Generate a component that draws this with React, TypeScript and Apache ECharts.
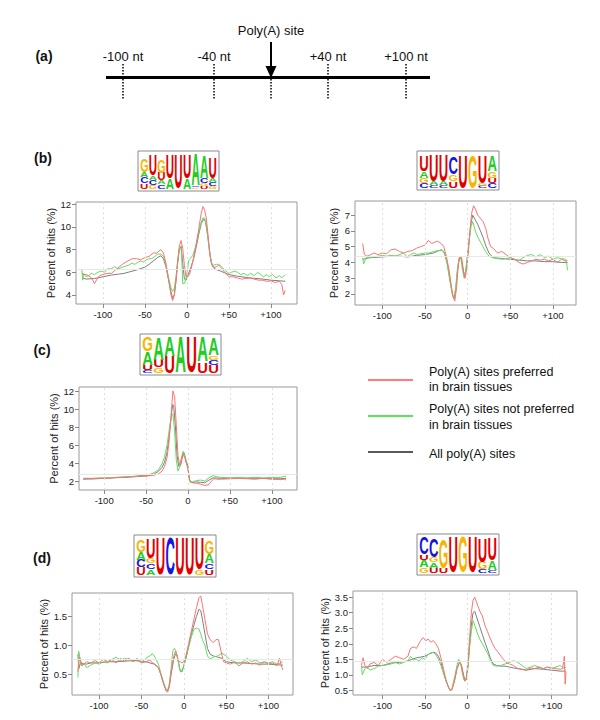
import React, { useEffect, useRef } from "react";
import * as echarts from "echarts";

type P = [number, number];

const X_TICKS = [-100, -50, 0, 50, 100];

// ---- panel (b) left ----
const B1_ALL: P[] = [[-125,5.5],[-120,5.4],[-110,5.45],[-100,5.6],[-90,5.75],[-80,5.85],[-75,5.9],[-70,6.0],[-60,6.2],[-50,6.45],[-45,6.7],[-40,7.0],[-35,7.3],[-31,7.45],[-28,7.2],[-25,6.5],[-22,5.4],[-19,4.3],[-17,3.7],[-15,4.0],[-13,5.2],[-11,6.8],[-9,8.0],[-7,8.3],[-5,6.8],[-3,5.4],[-1,5.3],[1,5.7],[3,6.1],[5,6.5],[8,7.2],[11,8.2],[14,9.3],[17,10.3],[20,10.7],[22,10.5],[24,9.6],[26,8.5],[28,7.3],[30,6.6],[33,6.3],[40,6.1],[50,5.8],[60,5.65],[75,5.5],[90,5.4],[100,5.3],[110,5.25],[117,5.2]];
const B1_RED: P[] = [[-125,5.9],[-123,5.8],[-120,5.8],[-115,5.6],[-112,5.3],[-110,5.0],[-107,5.4],[-104,5.7],[-100,5.8],[-95,5.9],[-90,5.9],[-85,6.2],[-80,6.5],[-75,6.8],[-70,7.0],[-65,7.2],[-60,7.2],[-55,7.1],[-50,7.3],[-45,7.4],[-40,7.7],[-36,7.7],[-31,8.0],[-28,7.7],[-25,6.8],[-22,5.4],[-19,4.0],[-17,3.5],[-15,4.0],[-13,5.3],[-11,7.0],[-9,8.3],[-7,8.8],[-5,8.1],[-3,6.6],[-1,5.6],[1,5.6],[3,5.8],[5,6.3],[8,7.3],[11,8.4],[14,9.8],[17,11.2],[19,11.8],[21,11.5],[23,10.8],[25,9.4],[27,7.8],[29,6.8],[32,6.4],[35,6.5],[38,6.6],[41,6.4],[45,6.0],[50,5.6],[55,5.6],[60,5.5],[65,5.4],[70,5.45],[75,5.5],[80,5.4],[85,5.3],[90,5.3],[95,5.2],[100,5.25],[105,5.1],[110,5.2],[113,4.9],[115,4.0],[117,4.4]];
const B1_GREEN: P[] = [[-125,6.2],[-124,5.3],[-123,5.9],[-120,5.6],[-117,5.7],[-114,5.9],[-110,5.8],[-106,6.0],[-102,6.1],[-98,6.0],[-95,6.3],[-90,6.3],[-86,6.5],[-82,6.3],[-78,6.4],[-75,6.5],[-70,6.6],[-66,6.8],[-62,6.7],[-58,6.9],[-55,7.0],[-52,6.9],[-48,7.1],[-45,7.2],[-42,7.2],[-38,7.4],[-35,7.6],[-31,7.6],[-28,7.4],[-25,6.7],[-22,5.6],[-19,4.6],[-17,4.3],[-15,4.6],[-13,5.6],[-11,7.0],[-9,8.1],[-7,8.3],[-6,7.0],[-5,5.0],[-3,5.0],[-1,5.5],[1,6.4],[2,7.0],[4,7.2],[7,7.5],[10,8.2],[14,9.5],[17,10.4],[19,10.8],[21,10.8],[23,10.2],[25,9.0],[27,7.7],[29,6.9],[31,6.6],[35,6.7],[38,6.7],[41,6.5],[45,6.2],[50,5.9],[53,6.0],[57,6.1],[60,6.0],[64,5.8],[68,5.9],[72,5.7],[76,5.9],[80,5.7],[84,6.0],[88,5.8],[91,5.6],[95,5.8],[98,5.6],[102,5.8],[106,5.5],[110,5.7],[113,5.5],[117,5.8]];

// ---- panel (b) right ----
const B2_ALL: P[] = [[-123,4.2],[-115,4.3],[-100,4.35],[-90,4.4],[-80,4.4],[-70,4.35],[-60,4.45],[-50,4.5],[-40,4.6],[-35,4.72],[-30,4.8],[-27,4.6],[-24,4.0],[-21,3.0],[-18,2.0],[-16,1.7],[-14,2.2],[-12,3.4],[-10,4.25],[-8,4.35],[-6,3.8],[-4,3.1],[-2,3.5],[0,4.5],[2,5.5],[4,6.5],[6,7.0],[9,6.7],[12,6.4],[15,6.0],[18,5.6],[21,5.1],[25,4.6],[30,4.3],[40,4.25],[50,4.2],[60,4.15],[70,4.1],[80,4.1],[90,4.05],[100,4.05],[110,4.0],[117,4.0]];
const B2_RED: P[] = [[-123,5.2],[-121,4.5],[-118,4.4],[-115,4.45],[-110,4.6],[-105,4.5],[-100,4.6],[-95,4.55],[-90,4.8],[-85,4.85],[-80,4.7],[-75,4.6],[-70,4.7],[-65,4.75],[-60,4.9],[-55,5.0],[-50,5.1],[-46,5.4],[-42,5.2],[-38,5.3],[-35,5.35],[-31,5.2],[-28,5.0],[-25,4.4],[-22,3.6],[-19,2.5],[-17,1.8],[-15,1.55],[-13,2.4],[-11,3.8],[-9,4.4],[-7,4.3],[-5,3.5],[-3,3.0],[-1,3.6],[1,4.8],[3,6.2],[5,7.2],[7,7.6],[9,7.4],[12,7.0],[15,6.8],[18,6.6],[21,6.2],[24,5.5],[27,5.0],[30,4.9],[35,4.6],[40,4.7],[45,4.5],[50,4.3],[55,4.2],[60,4.0],[65,3.9],[70,4.0],[75,4.1],[80,4.2],[85,4.15],[90,4.2],[95,4.1],[100,4.2],[105,4.0],[110,4.2],[115,4.1],[117,4.1]];
const B2_GREEN: P[] = [[-123,4.3],[-122,3.9],[-119,4.3],[-115,4.3],[-110,4.35],[-105,4.4],[-100,4.45],[-95,4.4],[-90,4.45],[-85,4.4],[-80,4.5],[-75,4.6],[-71,4.35],[-67,4.5],[-63,4.6],[-59,4.5],[-55,4.55],[-50,4.6],[-45,4.6],[-40,4.7],[-35,4.75],[-30,4.8],[-27,4.55],[-24,3.9],[-21,2.9],[-18,2.0],[-16,1.8],[-14,2.4],[-12,3.6],[-10,4.3],[-8,4.3],[-6,3.5],[-4,3.0],[-2,3.6],[0,4.5],[2,5.5],[4,6.3],[6,6.6],[9,6.0],[12,5.6],[15,5.3],[18,5.0],[21,4.7],[25,4.4],[30,4.3],[40,4.2],[45,4.25],[50,4.3],[55,4.2],[60,4.1],[65,4.3],[70,4.45],[75,4.5],[80,4.35],[85,4.5],[90,4.3],[95,4.4],[100,4.2],[105,4.3],[110,4.25],[115,4.2],[116,4.0],[117,3.5]];

// ---- panel (c) ----
const C_ALL: P[] = [[-125,2.2],[-110,2.25],[-100,2.3],[-90,2.35],[-75,2.4],[-60,2.5],[-50,2.55],[-45,2.65],[-40,2.8],[-35,3.1],[-31,3.5],[-28,4.1],[-25,5.2],[-23,6.6],[-21,8.4],[-19,10.0],[-18,10.5],[-17,10.3],[-15,8.0],[-13,4.8],[-11,3.6],[-9,3.7],[-7,4.5],[-5,5.2],[-4,4.9],[-2,4.2],[0,3.6],[1,2.6],[2,2.0],[5,1.85],[10,1.9],[15,1.85],[20,1.8],[25,2.1],[30,2.35],[40,2.3],[50,2.3],[60,2.32],[70,2.3],[80,2.3],[90,2.28],[100,2.25],[110,2.25],[117,2.3]];
const C_RED: P[] = [[-125,2.1],[-123,2.3],[-115,2.25],[-105,2.3],[-95,2.3],[-85,2.4],[-75,2.45],[-65,2.5],[-55,2.6],[-50,2.55],[-45,2.6],[-40,2.65],[-35,2.8],[-31,3.1],[-28,3.6],[-25,4.6],[-23,6.0],[-21,8.2],[-19,10.8],[-18,12.0],[-16,11.4],[-14,8.3],[-12,4.8],[-10,3.8],[-8,4.4],[-6,5.0],[-4,4.6],[-2,4.0],[0,3.3],[2,2.1],[5,1.8],[10,1.75],[15,1.65],[20,1.5],[25,1.6],[28,2.0],[31,2.25],[35,2.2],[40,2.2],[50,2.25],[60,2.3],[70,2.25],[80,2.2],[90,2.3],[100,2.2],[110,2.15],[115,2.2],[117,2.1]];
const C_GREEN: P[] = [[-125,2.3],[-115,2.3],[-105,2.35],[-95,2.35],[-85,2.4],[-75,2.45],[-65,2.5],[-55,2.6],[-50,2.6],[-45,2.75],[-40,2.95],[-35,3.3],[-31,3.9],[-28,4.7],[-25,6.0],[-23,7.3],[-21,8.6],[-19,9.4],[-18,9.5],[-16,7.6],[-14,4.4],[-12,3.1],[-10,3.5],[-8,4.5],[-6,5.3],[-4,4.8],[-2,4.0],[0,3.5],[1,2.4],[3,1.8],[6,1.9],[10,2.05],[15,2.1],[20,2.0],[25,2.35],[30,2.6],[35,2.45],[40,2.4],[50,2.35],[60,2.4],[70,2.35],[80,2.4],[90,2.35],[100,2.4],[110,2.4],[117,2.55]];

// ---- panel (d) left ----
const D1_ALL: P[] = [[-125,0.85],[-124,0.6],[-122,0.7],[-115,0.68],[-110,0.7],[-100,0.7],[-90,0.72],[-80,0.72],[-70,0.73],[-60,0.74],[-50,0.73],[-45,0.72],[-40,0.7],[-35,0.68],[-30,0.62],[-27,0.5],[-24,0.35],[-21,0.24],[-19,0.22],[-17,0.3],[-15,0.5],[-12,0.75],[-10,0.85],[-8,0.84],[-6,0.7],[-4,0.55],[-2,0.55],[0,0.65],[3,0.8],[6,1.0],[9,1.2],[12,1.35],[15,1.5],[18,1.62],[20,1.6],[22,1.45],[25,1.2],[28,0.95],[31,0.85],[35,0.82],[40,0.8],[45,0.78],[50,0.72],[60,0.7],[70,0.7],[80,0.69],[90,0.68],[100,0.68],[110,0.67],[117,0.66]];
const D1_RED: P[] = [[-125,0.55],[-123,0.8],[-120,0.65],[-115,0.72],[-110,0.7],[-105,0.74],[-100,0.7],[-95,0.76],[-90,0.72],[-85,0.76],[-80,0.7],[-75,0.78],[-70,0.73],[-65,0.78],[-60,0.73],[-55,0.75],[-50,0.7],[-45,0.72],[-40,0.75],[-37,0.7],[-34,0.68],[-30,0.62],[-27,0.5],[-24,0.35],[-21,0.22],[-19,0.2],[-17,0.3],[-15,0.55],[-12,0.8],[-10,0.9],[-8,0.82],[-6,0.72],[-4,0.72],[-2,0.7],[0,0.72],[3,0.85],[6,1.05],[9,1.25],[12,1.45],[15,1.65],[18,1.82],[20,1.85],[22,1.7],[25,1.45],[28,1.2],[31,1.1],[35,1.05],[38,1.1],[41,1.1],[44,0.9],[47,0.72],[50,0.7],[55,0.68],[60,0.72],[65,0.65],[70,0.7],[75,0.72],[80,0.68],[85,0.7],[90,0.66],[95,0.72],[100,0.68],[105,0.7],[110,0.65],[113,0.78],[116,0.62],[117,0.58]];
const D1_GREEN: P[] = [[-125,0.45],[-124,0.9],[-121,0.65],[-118,0.7],[-115,0.62],[-110,0.66],[-105,0.7],[-100,0.68],[-95,0.72],[-90,0.7],[-85,0.76],[-80,0.8],[-75,0.74],[-70,0.78],[-65,0.76],[-60,0.72],[-55,0.78],[-50,0.7],[-45,0.78],[-40,0.82],[-37,0.86],[-34,0.8],[-30,0.68],[-27,0.52],[-24,0.38],[-21,0.25],[-19,0.24],[-17,0.35],[-15,0.6],[-13,0.9],[-11,0.95],[-9,0.9],[-7,0.75],[-5,0.6],[-3,0.55],[0,0.65],[3,0.82],[6,0.98],[9,1.15],[12,1.28],[15,1.3],[18,1.28],[20,1.2],[22,1.1],[25,1.0],[28,0.82],[31,0.77],[35,0.8],[40,0.82],[45,0.87],[50,0.82],[55,0.75],[60,0.72],[65,0.7],[70,0.72],[75,0.78],[80,0.72],[85,0.75],[90,0.7],[95,0.72],[100,0.7],[105,0.72],[110,0.68],[115,0.7],[117,0.72]];

// ---- panel (d) right ----
const D2_ALL: P[] = [[-125,1.25],[-120,1.25],[-110,1.3],[-100,1.3],[-90,1.38],[-80,1.4],[-70,1.45],[-65,1.5],[-60,1.55],[-55,1.57],[-50,1.6],[-45,1.67],[-40,1.73],[-37,1.7],[-34,1.6],[-31,1.4],[-28,1.1],[-25,0.8],[-22,0.6],[-20,0.5],[-18,0.52],[-15,0.8],[-12,1.2],[-9,1.4],[-7,1.35],[-5,1.1],[-3,0.85],[-1,0.85],[1,1.3],[3,2.0],[5,2.6],[7,3.0],[9,3.05],[12,2.8],[15,2.55],[18,2.3],[21,2.05],[25,1.75],[28,1.5],[31,1.35],[35,1.3],[40,1.28],[45,1.28],[50,1.25],[55,1.22],[60,1.2],[70,1.15],[80,1.2],[90,1.18],[100,1.15],[110,1.12],[117,1.12]];
const D2_RED: P[] = [[-125,1.3],[-123,1.55],[-121,1.3],[-118,1.2],[-115,1.35],[-110,1.4],[-105,1.3],[-100,1.5],[-95,1.4],[-90,1.5],[-85,1.6],[-80,1.55],[-75,1.5],[-70,1.6],[-67,1.85],[-63,1.9],[-60,1.85],[-57,2.0],[-55,2.1],[-52,2.2],[-49,2.1],[-46,2.15],[-43,2.05],[-40,2.1],[-37,2.0],[-34,1.85],[-31,1.55],[-28,1.2],[-25,0.85],[-22,0.6],[-20,0.5],[-18,0.52],[-15,0.8],[-12,1.2],[-9,1.4],[-7,1.35],[-5,1.05],[-3,0.8],[-1,0.85],[1,1.4],[3,2.2],[5,3.0],[7,3.4],[9,3.5],[11,3.35],[13,3.2],[15,3.05],[18,2.9],[21,2.6],[24,2.4],[27,2.2],[30,2.0],[33,1.85],[36,1.75],[40,1.6],[43,1.5],[46,1.4],[50,1.35],[55,1.3],[60,1.2],[65,1.18],[70,1.15],[75,1.22],[80,1.2],[85,1.25],[90,1.2],[95,1.25],[100,1.22],[105,1.2],[110,1.18],[113,1.2],[115,1.6],[116,0.7],[117,1.1]];
const D2_GREEN: P[] = [[-125,1.3],[-124,1.0],[-121,1.2],[-118,1.25],[-115,1.15],[-110,1.2],[-105,1.28],[-100,1.3],[-95,1.32],[-90,1.35],[-85,1.4],[-80,1.35],[-75,1.4],[-70,1.45],[-67,1.6],[-64,1.5],[-60,1.5],[-57,1.45],[-53,1.55],[-50,1.5],[-47,1.62],[-44,1.7],[-40,1.72],[-37,1.65],[-34,1.5],[-31,1.3],[-28,1.05],[-25,0.8],[-22,0.6],[-20,0.48],[-18,0.55],[-15,0.9],[-12,1.3],[-10,1.5],[-8,1.4],[-6,1.1],[-4,0.85],[-2,0.8],[1,1.2],[3,1.9],[5,2.4],[7,2.75],[9,2.6],[12,2.35],[15,2.15],[18,2.0],[21,1.85],[25,1.65],[28,1.45],[31,1.3],[35,1.28],[40,1.3],[45,1.35],[50,1.4],[55,1.45],[60,1.4],[65,1.3],[70,1.2],[75,1.25],[80,1.3],[85,1.25],[90,1.2],[95,1.25],[100,1.2],[105,1.25],[110,1.3],[115,1.2],[117,1.25]];

// ---- sequence logos: columns of [letter, relative height] from bottom to top ----
type Col = [string, number][];
const LOGO_B1: Col[] = [
  [["U",0.15],["C",0.17],["A",0.15],["G",0.38]],
  [["G",0.1],["C",0.15],["A",0.12],["U",0.6]],
  [["C",0.12],["A",0.12],["U",0.2],["G",0.36]],
  [["A",0.3],["U",0.67]],
  [["U",0.97]],
  [["A",0.3],["U",0.67]],
  [["G",0.05],["C",0.04],["A",0.88]],
  [["U",0.08],["G",0.08],["C",0.14],["A",0.62]],
  [["G",0.08],["C",0.1],["A",0.12],["U",0.6]],
];
const LOGO_B2: Col[] = [
  [["C",0.15],["G",0.15],["A",0.18],["U",0.47]],
  [["C",0.08],["A",0.12],["U",0.77]],
  [["C",0.07],["A",0.12],["U",0.77]],
  [["U",0.2],["G",0.2],["C",0.5]],
  [["U",0.96]],
  [["G",0.96]],
  [["C",0.06],["G",0.08],["U",0.78]],
  [["C",0.15],["U",0.15],["G",0.18],["A",0.45]],
];
const LOGO_C: Col[] = [
  [["C",0.08],["U",0.15],["A",0.35],["G",0.38]],
  [["G",0.15],["U",0.2],["A",0.62]],
  [["U",0.45],["A",0.52]],
  [["A",0.97]],
  [["U",0.97]],
  [["U",0.3],["A",0.67]],
  [["U",0.2],["C",0.15],["G",0.12],["A",0.47]],
];
const LOGO_D1: Col[] = [
  [["U",0.2],["C",0.2],["A",0.2],["G",0.3]],
  [["A",0.15],["C",0.15],["G",0.15],["U",0.52]],
  [["U",0.97]],
  [["C",0.97]],
  [["U",0.97]],
  [["U",0.97]],
  [["G",0.15],["U",0.82]],
  [["U",0.15],["C",0.15],["A",0.25],["G",0.35]],
];
const LOGO_D2: Col[] = [
  [["G",0.15],["A",0.2],["U",0.15],["C",0.45]],
  [["U",0.15],["A",0.15],["G",0.15],["C",0.5]],
  [["U",0.15],["G",0.8]],
  [["U",0.97]],
  [["G",0.97]],
  [["U",0.97]],
  [["C",0.1],["G",0.2],["U",0.65]],
  [["C",0.08],["A",0.25],["U",0.62]],
];

const LEGEND_LABELS = [
  "Poly(A) sites preferred\nin brain tissues",
  "Poly(A) sites not preferred\nin brain tissues",
  "All poly(A) sites",
];

const RED = "#ff7272";
const GREEN = "#62dd62";
const GREY = "#7e7e7e";
const FONT = "Liberation Sans";

const LETTER_COLOR: Record<string, string> = { A: "#22cc22", C: "#1515e0", G: "#f7b500", U: "#e00000" };
const LETTER_W: Record<string, number> = { A: 0.722, C: 0.722, G: 0.778, U: 0.722 };

function logo(lx: number, ly: number, w: number, h: number, cols: Col[]) {
  const els: any[] = [];
  els.push({ type: "rect", shape: { x: lx, y: ly, width: w, height: h }, style: { fill: "#fff", stroke: "#8a8a8a", lineWidth: 1 } });
  const pad = 2;
  const cw = (w - 2 * pad) / cols.length;
  const ih = h - 2 * pad;
  const F = 20;
  cols.forEach((col, ci) => {
    let yb = ly + h - pad;
    const cx = lx + pad + cw * (ci + 0.5);
    col.forEach(([ch, frac]) => {
      const lh = frac * ih;
      els.push({
        type: "text",
        x: cx,
        y: yb - lh / 2,
        scaleX: (cw * 0.97) / (LETTER_W[ch] * F),
        scaleY: lh / (0.716 * F),
        style: {
          text: ch, fontSize: F, fontWeight: "bold", fontFamily: FONT, fill: LETTER_COLOR[ch],
          align: "center", verticalAlign: "middle", textAlign: "center", textVerticalAlign: "middle",
        },
      });
      yb -= lh;
    });
  });
  return els;
}

function txt(x: number, y: number, text: string, size: number, opts: any = {}) {
  return {
    type: "text", x, y,
    style: {
      text, fontSize: size, fontFamily: FONT, fill: "#111",
      align: opts.align || "center", verticalAlign: "middle",
      textAlign: opts.align || "center", textVerticalAlign: "middle",
      fontWeight: opts.bold ? "bold" : "normal", lineHeight: opts.lineHeight,
    },
  };
}

const PANELS = [
  { grid: { left: 76, top: 202, width: 221, height: 102 }, xr: [-132, 131], yr: [3.2, 12.2], yt: [4, 6, 8, 10, 12], mean: 6.3, dec: 0, gap: 17, all: B1_ALL, red: B1_RED, green: B1_GREEN },
  { grid: { left: 355, top: 201, width: 221, height: 104 }, xr: [-132, 127], yr: [1.3, 7.9], yt: [2, 3, 4, 5, 6, 7], mean: 4.37, dec: 0, gap: 16, all: B2_ALL, red: B2_RED, green: B2_GREEN },
  { grid: { left: 79, top: 387, width: 218, height: 103 }, xr: [-130, 130], yr: [1.0, 12.45], yt: [2, 4, 6, 8, 10, 12], mean: 2.8, dec: 0, gap: 17, all: C_ALL, red: C_RED, green: C_GREEN },
  { grid: { left: 72, top: 593, width: 221, height: 102 }, xr: [-132, 129], yr: [0.15, 1.9], yt: [0.5, 1.0, 1.5], mean: 0.76, dec: 1, gap: 18, all: D1_ALL, red: D1_RED, green: D1_GREEN },
  { grid: { left: 353, top: 591, width: 224, height: 104 }, xr: [-135, 130], yr: [0.35, 3.7], yt: [0.5, 1.0, 1.5, 2.0, 2.5, 3.0, 3.5], mean: 1.45, dec: 1, gap: 18, all: D2_ALL, red: D2_RED, green: D2_GREEN },
];

export default function App() {
  const ref = useRef<HTMLDivElement>(null);
  useEffect(() => {
    if (!ref.current) return;
    const chart = echarts.init(ref.current, undefined, { renderer: "svg" });

    const grids: any[] = [];
    const xAxes: any[] = [];
    const yAxes: any[] = [];
    const series: any[] = [];
    PANELS.forEach((p, i) => {
      grids.push({ ...p.grid, show: true, borderColor: "#9a9a9a", borderWidth: 1, backgroundColor: "transparent" });
      xAxes.push({
        gridIndex: i, type: "value", min: p.xr[0], max: p.xr[1], position: "bottom",
        axisLine: { show: false, onZero: false },
        axisTick: { show: true, length: 4, customValues: X_TICKS, lineStyle: { color: "#888" } },
        axisLabel: { customValues: X_TICKS, fontSize: 9.5, color: "#222", fontFamily: FONT, margin: 5,
          formatter: (v: number) => (v > 0 ? "+" + v : String(v)) },
        splitLine: { show: false },
      });
      yAxes.push({
        gridIndex: i, type: "value", min: p.yr[0], max: p.yr[1], position: "left",
        axisLine: { show: false, onZero: false },
        axisTick: { show: true, length: 4, customValues: p.yt, lineStyle: { color: "#888" } },
        axisLabel: { customValues: p.yt, fontSize: 9.5, color: "#222", fontFamily: FONT, margin: 5,
          formatter: (v: number) => v.toFixed(p.dec) },
        splitLine: { show: false },
        name: "Percent of hits (%)", nameLocation: "middle", nameGap: p.gap,
        nameTextStyle: { fontSize: 11, color: "#222", fontFamily: FONT },
      });
      const base = { type: "line", xAxisIndex: i, yAxisIndex: i, showSymbol: false, symbol: "none", silent: true };
      series.push({
        ...base, data: p.all, lineStyle: { width: 1, color: GREY }, itemStyle: { color: GREY },
        markLine: {
          silent: true, symbol: ["none", "none"], label: { show: false },
          data: [
            ...X_TICKS.map((v) => ({ xAxis: v, lineStyle: { color: "#dedede", type: [2, 3], width: 1 } })),
            { yAxis: p.mean, lineStyle: { color: "#e8e8e8", type: "solid", width: 1 } },
          ],
        },
      });
      series.push({ ...base, data: p.green, lineStyle: { width: 1, color: GREEN }, itemStyle: { color: GREEN } });
      series.push({ ...base, data: p.red, lineStyle: { width: 1, color: RED }, itemStyle: { color: RED } });
    });

    const graphic: any[] = [];
    // panel (a)
    graphic.push(txt(44, 56, "(a)", 14, { bold: true }));
    graphic.push({ type: "line", shape: { x1: 106, y1: 77.5, x2: 430, y2: 77.5 }, style: { stroke: "#000", lineWidth: 3 } });
    const aTicks = [[123, "-100 nt"], [214, "-40 nt"], [271, ""], [328, "+40 nt"], [406, "+100 nt"]] as [number, string][];
    aTicks.forEach(([x, t]) => {
      graphic.push({ type: "line", shape: { x1: x, y1: 64, x2: x, y2: 99 }, style: { stroke: "#000", lineWidth: 1.5, lineDash: [1.5, 1.5] } });
      if (t) graphic.push(txt(x, 56, t, 13));
    });
    graphic.push(txt(271, 30, "Poly(A) site", 13));
    graphic.push({ type: "line", shape: { x1: 271, y1: 42, x2: 271, y2: 68 }, style: { stroke: "#000", lineWidth: 2 } });
    graphic.push({ type: "polygon", shape: { points: [[265.5, 66], [276.5, 66], [271, 78]] }, style: { fill: "#000" } });

    // panel labels
    graphic.push(txt(43, 158, "(b)", 14, { bold: true }));
    graphic.push(txt(42, 350, "(c)", 14, { bold: true }));
    graphic.push(txt(42, 558, "(d)", 14, { bold: true }));

    // logos
    graphic.push(...logo(138, 151, 81, 40, LOGO_B1));
    graphic.push(...logo(417, 151, 82, 39, LOGO_B2));
    graphic.push(...logo(140, 334, 81, 41, LOGO_C));
    graphic.push(...logo(134, 535, 82, 42, LOGO_D1));
    graphic.push(...logo(417, 534, 82, 41, LOGO_D2));

    // legend
    const legColors = ["#ff5050", "#22dd22", "#222"];
    const legY = [380, 416, 452];
    const legTextY = [379.5, 417, 453.5];
    LEGEND_LABELS.forEach((lab, k) => {
      graphic.push({ type: "line", shape: { x1: 368, y1: legY[k], x2: 413, y2: legY[k] }, style: { stroke: legColors[k], lineWidth: 1.5 } });
      graphic.push(txt(429, legTextY[k], lab, 12.5, { align: "left", lineHeight: 15.5 }));
    });

    chart.setOption({
      animation: false,
      backgroundColor: "#fff",
      grid: grids,
      xAxis: xAxes,
      yAxis: yAxes,
      series,
      graphic: { elements: graphic },
    });
    return () => chart.dispose();
  }, []);
  return <div ref={ref} style={{ position: "absolute", left: 0, top: 0, width: 600, height: 720 }} />;
}
